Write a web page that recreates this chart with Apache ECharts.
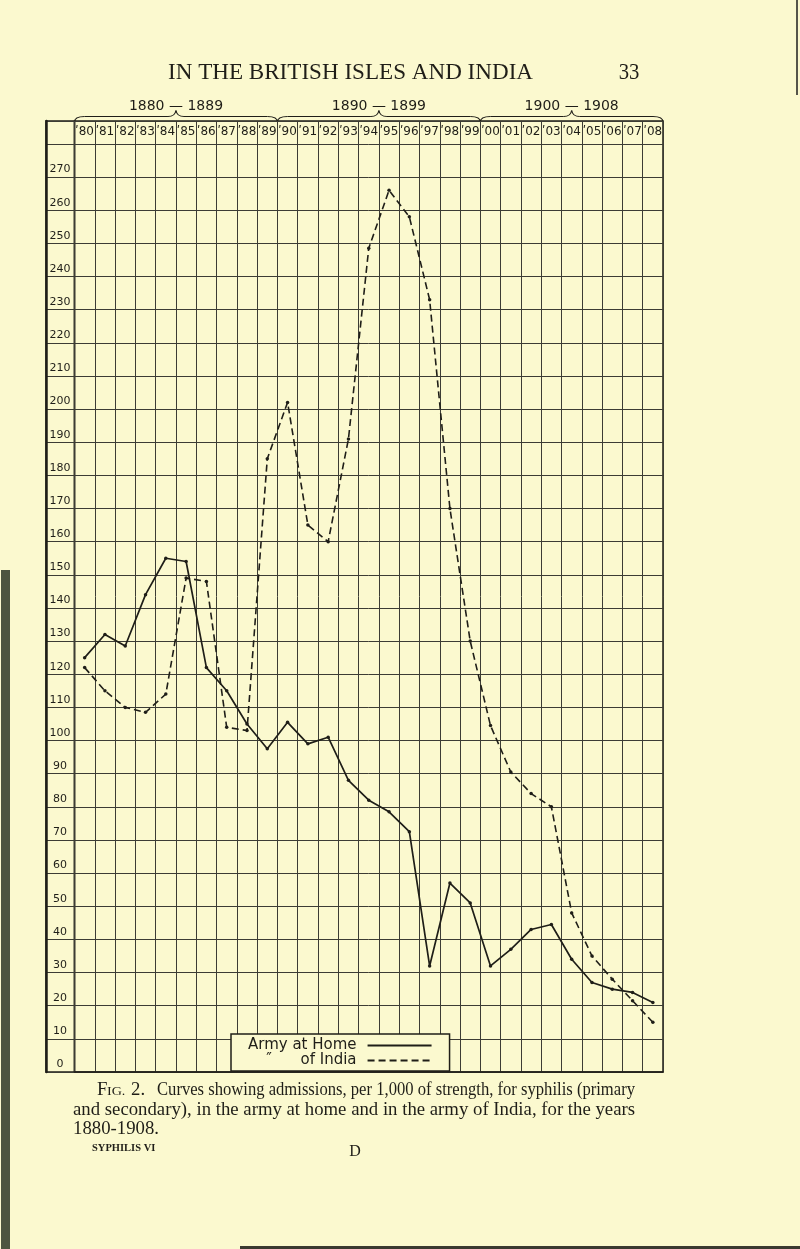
<!DOCTYPE html>
<html><head><meta charset="utf-8">
<script src="https://cdn.jsdelivr.net/npm/echarts@6/dist/echarts.min.js"></script>
<style>html,body{margin:0;padding:0;background:#fbf9cf;}#c{width:800px;height:1249px;}</style>
</head><body><div id="c"></div>
<script>
// ---- data ----
const years = [1880,1881,1882,1883,1884,1885,1886,1887,1888,1889,1890,1891,1892,1893,1894,1895,1896,1897,1898,1899,1900,1901,1902,1903,1904,1905,1906,1907,1908];
const yearLabels = ['ʹ80','ʹ81','ʹ82','ʹ83','ʹ84','ʹ85','ʹ86','ʹ87','ʹ88','ʹ89','ʹ90','ʹ91','ʹ92','ʹ93','ʹ94','ʹ95','ʹ96','ʹ97','ʹ98','ʹ99','ʹ00','ʹ01','ʹ02','ʹ03','ʹ04','ʹ05','ʹ06','ʹ07','ʹ08'];
const homeValues  = [125,132,128.5,144,155,154,122,115,105,97.5,105.5,99,101,88,82,78.5,72.5,32,57,51,32,37,43,44.5,34,27,25,24,21];
const indiaValues = [122,115,110,108.5,114,149,148,104,103,185,202,165,160,191,248.5,266,258,233,170,130,104.5,90.5,84,80,48,35,28,21.5,15];
const yTickMax = 270;
const decadeLabels = ['1880 — 1889','1890 — 1899','1900 — 1908'];
const decadeSpans = [[0,10],[10,20],[20,29]];
const seriesNames = ['Army at Home','″      of India'];
const titleText = 'IN THE BRITISH ISLES AND INDIA';
const pageNumber = '33';
const captionLine1 = 'Curves showing admissions, per 1,000 of strength, for syphilis (primary';
const captionLine2 = 'and secondary), in the army at home and in the army of India, for the years';
const captionLine3 = '1880-1908.';

// ---- layout ----
const INK = '#1f1e18', GRIDC = '#3c3c34', PAPER = '#fbf9cf';
const L = 74.5, R = 663, T = 121, B = 1072, LAB = 46;
const YMAX = 286.9;
const colW = (R - L) / years.length;
const SANS = '"DejaVu Sans"';
const SERIF = '"Liberation Serif"';

const mctx = document.createElement('canvas').getContext('2d');
function fit(text, font, w) { mctx.font = font; return w / mctx.measureText(text).width; }

const braceStyle = {stroke: INK, fill: null, lineWidth: 1.2};
function braceParts(x1, x2) {
  const xc = (x1 + x2) / 2, yb = 122, ym = 116.5, yt = 110.5;
  return [
    {type:'bezierCurve', shape:{x1:x1, y1:yb, cpx1:x1, cpy1:ym, x2:x1+10, y2:ym}, style:braceStyle, silent:true},
    {type:'line', shape:{x1:x1+10, y1:ym, x2:xc-8, y2:ym}, style:braceStyle, silent:true},
    {type:'bezierCurve', shape:{x1:xc-8, y1:ym, cpx1:xc-1, cpy1:ym, x2:xc, y2:yt}, style:braceStyle, silent:true},
    {type:'bezierCurve', shape:{x1:xc, y1:yt, cpx1:xc+1, cpy1:ym, x2:xc+8, y2:ym}, style:braceStyle, silent:true},
    {type:'line', shape:{x1:xc+8, y1:ym, x2:x2-10, y2:ym}, style:braceStyle, silent:true},
    {type:'bezierCurve', shape:{x1:x2-10, y1:ym, cpx1:x2, cpy1:ym, x2:x2, y2:yb}, style:braceStyle, silent:true}
  ];
}

const graphic = [];
graphic.push({type:'rect', shape:{x:1, y:570, width:9, height:679}, style:{fill:'#4d5540'}, silent:true});
graphic.push({type:'rect', shape:{x:240, y:1246, width:560, height:3}, style:{fill:'#3a3a30'}, silent:true});
graphic.push({type:'rect', shape:{x:796, y:0, width:2, height:95}, style:{fill:'#55554a'}, silent:true});
const titleFont = `23px ${SERIF}`;
graphic.push({type:'text', x:168, y:73, scaleX: fit(titleText, titleFont, 365), style:{text:titleText, font:titleFont, fill:INK, align:'left', verticalAlign:'middle'}});
graphic.push({type:'text', x:629, y:73, scaleX:0.9, style:{text:pageNumber, font:titleFont, fill:INK, align:'center', verticalAlign:'middle'}});
decadeSpans.forEach((s, i) => {
  const x1 = L + s[0]*colW, x2 = L + s[1]*colW;
  braceParts(x1, x2).forEach(p => graphic.push(p));
  graphic.push({type:'text', x:(x1+x2)/2, y:106, style:{text:decadeLabels[i], font:`14px ${SANS}`, fill:INK, align:'center', verticalAlign:'middle'}});
});
const capFont = `18px ${SERIF}`;
const s1 = fit(captionLine1, capFont, 478), s2 = fit(captionLine2, capFont, 562);
graphic.push({type:'text', x:97, y:1090, scaleX:s2, style:{text:'F', font:capFont, fill:INK, align:'left', verticalAlign:'middle'}});
graphic.push({type:'text', x:107, y:1091, scaleX:s2, style:{text:'IG.', font:`13.5px ${SERIF}`, fill:INK, align:'left', verticalAlign:'middle'}});
graphic.push({type:'text', x:131, y:1090, scaleX:s2, style:{text:'2.', font:capFont, fill:INK, align:'left', verticalAlign:'middle'}});
graphic.push({type:'text', x:157, y:1090, scaleX:s1, style:{text:captionLine1, font:capFont, fill:INK, align:'left', verticalAlign:'middle'}});
graphic.push({type:'text', x:73, y:1110, scaleX:s2, style:{text:captionLine2, font:capFont, fill:INK, align:'left', verticalAlign:'middle'}});
graphic.push({type:'text', x:73, y:1129, scaleX:s2, style:{text:captionLine3, font:capFont, fill:INK, align:'left', verticalAlign:'middle'}});
graphic.push({type:'text', x:92, y:1148, style:{text:'SYPHILIS VI', font:`bold 10.5px ${SERIF}`, fill:INK, align:'left', verticalAlign:'middle'}});
graphic.push({type:'text', x:355, y:1152, style:{text:'D', font:`16px ${SERIF}`, fill:INK, align:'center', verticalAlign:'middle'}});

const chart = echarts.init(document.getElementById('c'), null, {renderer:'canvas'});
chart.setOption({
  backgroundColor: PAPER,
  animation: false,
  textStyle: {fontFamily: SANS},
  grid: [
    {left: L, top: T, width: R - L, height: B - T, show: true, borderColor: INK, borderWidth: 1.5, backgroundColor: 'transparent'},
    {left: LAB, top: T, width: L - LAB, height: B - T, show: true, borderColor: INK, borderWidth: 1.5, backgroundColor: 'transparent'}
  ],
  xAxis: [
    {type:'category', gridIndex:0, data: yearLabels, position:'top', boundaryGap:true,
     axisLine:{show:true, lineStyle:{color:INK, width:1.5}}, axisTick:{show:false},
     splitLine:{show:true, interval:0, lineStyle:{color:GRIDC, width:1}},
     axisLabel:{inside:true, interval:0, margin:11, verticalAlign:'middle', color:INK, fontSize:12, fontFamily:SANS}},
    {type:'value', gridIndex:1, show:false, min:0, max:1}
  ],
  yAxis: [
    {type:'value', gridIndex:0, min:0, max:YMAX, interval:10,
     axisLine:{show:true, lineStyle:{color:GRIDC, width:1}}, axisTick:{show:false},
     splitLine:{show:true, lineStyle:{color:GRIDC, width:1}},
     axisLabel:{margin:14.5, align:'center', verticalAlign:'bottom', padding:[0,0,2,0], color:INK, fontSize:11, fontFamily:SANS,
       formatter: v => (v <= yTickMax && Math.abs(v - Math.round(v/10)*10) < 1e-6) ? String(Math.round(v)) : ''}},
    {type:'value', gridIndex:1, min:0, max:YMAX, interval:10,
     axisLine:{show:true, lineStyle:{color:INK, width:2.5}}, axisTick:{show:false},
     splitLine:{show:true, lineStyle:{color:GRIDC, width:1}}, axisLabel:{show:false}}
  ],
  legend: {
    orient:'vertical', left:231, top:1034, align:'right', itemWidth:64, itemHeight:4, itemGap:0,
    padding:[4,17,3,17], borderColor:INK, borderWidth:1.5, backgroundColor:PAPER, selectedMode:false,
    itemStyle:{opacity:0},
    textStyle:{fontFamily:SANS, fontSize:15, color:INK, lineHeight:13, padding:[0,6,0,0]},
    data: seriesNames
  },
  graphic: graphic,
  series: [
    {name: seriesNames[0], type:'line', xAxisIndex:0, yAxisIndex:0, data: homeValues,
     symbol:'circle', symbolSize:3.5, showSymbol:true, itemStyle:{color:INK},
     lineStyle:{color:INK, width:1.7, type:'solid'}, z:5},
    {name: seriesNames[1], type:'line', xAxisIndex:0, yAxisIndex:0, data: indiaValues,
     symbol:'circle', symbolSize:3.5, showSymbol:true, itemStyle:{color:INK},
     lineStyle:{color:INK, width:1.6, type:[7,4]}, z:5}
  ]
});
</script></body></html>
